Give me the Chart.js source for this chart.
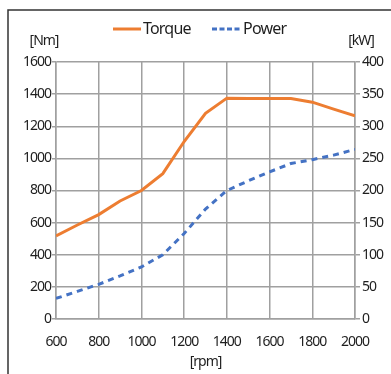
<!DOCTYPE html>
<html>
<head>
<meta charset="utf-8">
<script src="https://cdn.jsdelivr.net/npm/chart.js@4"></script>
<style>
  html, body { margin: 0; padding: 0; background: #fff; }
  #wrap { width: 391px; height: 374px; }
</style>
</head>
<body>
<div id="wrap"><canvas id="chart" width="391" height="374"></canvas></div>
<script>
// rpm values along the x axis
const rpm = [600, 700, 800, 900, 1000, 1100, 1200, 1300, 1400, 1500, 1600, 1700, 1800, 1900, 2000]
// torque in Nm (left axis)
const torque = [517, 585, 650, 735, 800, 905, 1105, 1280, 1375, 1372, 1372, 1372, 1350, 1307, 1265]
// power in kW (right axis)
const power = [32, 43, 54, 67, 81, 100, 133, 171, 200, 215, 229, 242, 248, 255, 264]

const ORANGE = '#ED7D31'
const BLUE = '#4472C4'
const GRID = '#a0a0a0'
const TEXT = '#1e1e1e'
const FONT = '"Noto Sans", sans-serif'

const plain = (v) => String(v)

// frame, legend and unit labels
const decor = {
  id: 'decor',
  beforeDraw(chart) {
    chart.ctx.letterSpacing = '-1px'
  },
  afterDraw(chart) {
    const ctx = chart.ctx
    const area = chart.chartArea
    ctx.save()
    // outer frame
    ctx.strokeStyle = '#333'
    ctx.lineWidth = 1.5
    ctx.strokeRect(8, 10, 600, 600)

    // legend
    ctx.lineWidth = 3
    ctx.strokeStyle = ORANGE
    ctx.beginPath()
    ctx.moveTo(113, 29)
    ctx.lineTo(141, 29)
    ctx.stroke()
    ctx.strokeStyle = BLUE
    ctx.setLineDash([5, 2.5])
    ctx.beginPath()
    ctx.moveTo(212, 29)
    ctx.lineTo(240, 29)
    ctx.stroke()
    ctx.setLineDash([])

    ctx.fillStyle = TEXT
    ctx.letterSpacing = '-0.8px'
    ctx.font = '16px ' + FONT
    ctx.textBaseline = 'middle'
    ctx.textAlign = 'left'
    ctx.fillText(chart.data.datasets[0].label, 143, 29)
    ctx.fillText(chart.data.datasets[1].label, 243, 29)

    // unit labels
    ctx.letterSpacing = '-1px'
    ctx.font = '14px ' + FONT
    ctx.textAlign = 'center'
    ctx.fillText('[Nm]', 44, 41)
    ctx.fillText('[kW]', 361, 41)
    ctx.fillText('[rpm]', (area.left + area.right) / 2, 362)
    ctx.restore()
  }
}

new Chart(document.getElementById('chart').getContext('2d'), {
  type: 'line',
  data: {
    labels: rpm,
    datasets: [
      {
        label: 'Torque',
        data: torque,
        yAxisID: 'y',
        borderColor: ORANGE,
        borderWidth: 3,
        pointRadius: 0,
        tension: 0
      },
      {
        label: 'Power',
        data: power,
        yAxisID: 'y1',
        borderColor: BLUE,
        borderWidth: 3,
        borderDash: [6, 5],
        pointRadius: 0,
        tension: 0
      }
    ]
  },
  options: {
    responsive: false,
    animation: false,
    layout: { padding: { top: 62, left: 0, right: 0, bottom: 0 } },
    plugins: {
      legend: { display: false },
      tooltip: { enabled: false }
    },
    scales: {
      x: {
        type: 'linear',
        min: 600,
        max: 2000,
        afterFit: (s) => { s.height = 55 },
        ticks: {
          stepSize: 200,
          padding: 15,
          color: TEXT,
          callback: plain,
          font: { family: FONT, size: 14 }
        },
        grid: { color: GRID, lineWidth: 1.5, drawTicks: false },
        border: { color: GRID, width: 1.5 }
      },
      y: {
        position: 'left',
        min: 0,
        max: 1600,
        afterFit: (s) => { s.width = 56 },
        ticks: {
          stepSize: 200,
          padding: 1,
          color: TEXT,
          callback: plain,
          font: { family: FONT, size: 14 }
        },
        grid: { color: GRID, lineWidth: 1.5, tickLength: 4 },
        border: { color: GRID, width: 1.5 }
      },
      y1: {
        position: 'right',
        min: 0,
        max: 400,
        afterFit: (s) => { s.width = 36 },
        ticks: {
          stepSize: 50,
          padding: 2,
          color: TEXT,
          callback: plain,
          font: { family: FONT, size: 14 }
        },
        grid: { color: GRID, lineWidth: 1.5, tickLength: 5, drawOnChartArea: false },
        border: { color: GRID, width: 1.5 }
      }
    }
  },
  plugins: [decor]
})
</script>
</body>
</html>
